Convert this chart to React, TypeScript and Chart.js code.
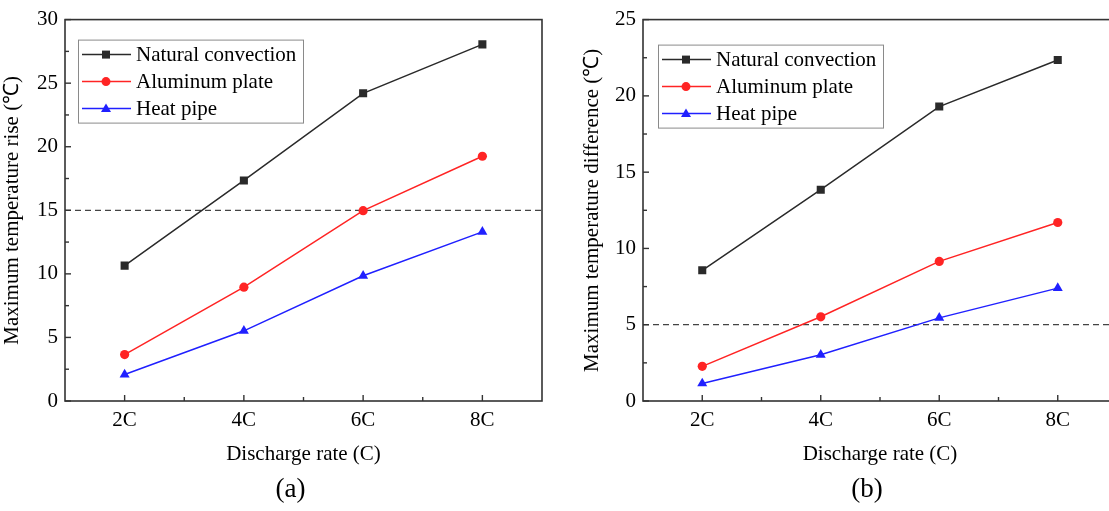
import React, { useEffect, useRef } from 'react';
import { Chart, registerables } from 'chart.js';

Chart.register(...registerables);

// ---------- data ----------
const categories = ['2C', '4C', '6C', '8C'];
const seriesNames = ['Natural convection', 'Aluminum plate', 'Heat pipe'];
const seriesColors = ['#2a2a2a', '#ff2424', '#2020ff'];
const seriesMarkers = ['rect', 'circle', 'triangle'];

const naturalA = [10.65, 17.35, 24.2, 28.05];
const aluminumA = [3.65, 8.95, 14.97, 19.25];
const heatPipeA = [2.08, 5.52, 9.85, 13.3];

const naturalB = [8.57, 13.85, 19.3, 22.35];
const aluminumB = [2.27, 5.52, 9.15, 11.7];
const heatPipeB = [1.15, 3.03, 5.45, 7.4];

const yMaxA = 30;
const yMaxB = 25;
const yStep = 5;
const thresholdA = 15;
const thresholdB = 5;

const xTitle = 'Discharge rate (C)';
const yTitleA = 'Maximum temperature rise (℃)';
const yTitleB = 'Maximum temperature difference (℃)';

const FONT = "'Liberation Serif', 'Times New Roman', Times, serif";

// ---------- decoration plugin ----------
const decorPlugin = {
  id: 'decor',
  beforeDatasetsDraw(chart: any, _args: any, opts: any) {
    const { ctx } = chart;
    const { left, top, right, bottom } = chart.chartArea;
    const ys = chart.scales.y;
    const xs = chart.scales.x;
    ctx.save();
    // dashed threshold
    const ty = ys.getPixelForValue(opts.threshold);
    ctx.strokeStyle = '#444';
    ctx.lineWidth = 1.2;
    ctx.setLineDash([6, 4]);
    ctx.beginPath();
    ctx.moveTo(left, ty);
    ctx.lineTo(right, ty);
    ctx.stroke();
    ctx.setLineDash([]);
    // frame
    ctx.strokeStyle = '#333';
    ctx.lineWidth = 1.6;
    ctx.strokeRect(left, top, right - left, bottom - top);
    // y ticks (inward)
    ctx.lineWidth = 1.4;
    const half = opts.step / 2;
    for (let v = 0; v <= opts.max + 1e-9; v += half) {
      const py = ys.getPixelForValue(v);
      const major = Math.abs(v / opts.step - Math.round(v / opts.step)) < 1e-6;
      const len = major ? 6 : 4;
      ctx.beginPath();
      ctx.moveTo(left, py);
      ctx.lineTo(left + len, py);
      ctx.stroke();
    }
    // x ticks (inward)
    const n = categories.length;
    for (let i = 0; i < n; i++) {
      const px = xs.getPixelForValue(i);
      ctx.beginPath();
      ctx.moveTo(px, bottom);
      ctx.lineTo(px, bottom - 6);
      ctx.stroke();
      if (i < n - 1) {
        const mx = (px + xs.getPixelForValue(i + 1)) / 2;
        ctx.beginPath();
        ctx.moveTo(mx, bottom);
        ctx.lineTo(mx, bottom - 4);
        ctx.stroke();
      }
    }
    ctx.restore();
  },
  afterDraw(chart: any, _args: any, opts: any) {
    const { ctx } = chart;
    const { left, top, right } = chart.chartArea;
    ctx.save();
    // legend
    const bx = left + opts.legendDx;
    const by = top + opts.legendDy;
    const bw = 225;
    const bh = 83;
    ctx.fillStyle = '#fff';
    ctx.fillRect(bx, by, bw, bh);
    ctx.strokeStyle = '#8a8a8a';
    ctx.lineWidth = 1;
    ctx.strokeRect(bx + 0.5, by + 0.5, bw, bh);
    const rows = [15, 42, 69];
    chart.data.datasets.forEach((ds: any, i: number) => {
      const ry = by + rows[i];
      ctx.strokeStyle = ds.borderColor;
      ctx.lineWidth = 1.5;
      ctx.beginPath();
      ctx.moveTo(bx + 4, ry);
      ctx.lineTo(bx + 53, ry);
      ctx.stroke();
      const mx = bx + 28;
      ctx.fillStyle = ds.borderColor;
      ctx.beginPath();
      if (ds.pointStyle === 'rect') {
        ctx.rect(mx - 4, ry - 4, 8, 8);
      } else if (ds.pointStyle === 'circle') {
        ctx.arc(mx, ry, 4.5, 0, Math.PI * 2);
      } else {
        ctx.moveTo(mx, ry - 5);
        ctx.lineTo(mx + 5, ry + 3.5);
        ctx.lineTo(mx - 5, ry + 3.5);
        ctx.closePath();
      }
      ctx.fill();
      ctx.fillStyle = '#000';
      ctx.font = `21px ${FONT}`;
      ctx.textAlign = 'left';
      ctx.textBaseline = 'middle';
      ctx.fillText(ds.label, bx + 58, ry + 1);
    });
    // panel label
    ctx.fillStyle = '#000';
    ctx.font = `27px ${FONT}`;
    ctx.textAlign = 'center';
    ctx.textBaseline = 'middle';
    ctx.fillText(opts.panel, (left + right) / 2 + opts.panelDx, opts.panelY);
    ctx.restore();
  },
};

type PanelProps = {
  left: number;
  series: number[][];
  yMax: number;
  threshold: number;
  yTitle: string;
  panel: string;
  padTop: number;
  padRight: number;
  yAxisWidth: number;
  legendDx: number;
  legendDy: number;
};

function Panel(p: PanelProps) {
  const ref = useRef<HTMLCanvasElement | null>(null);
  useEffect(() => {
    if (!ref.current) return;
    const chart = new Chart(ref.current, {
      type: 'line',
      data: {
        labels: categories,
        datasets: p.series.map((vals, i) => ({
          label: seriesNames[i],
          data: vals,
          borderColor: seriesColors[i],
          backgroundColor: seriesColors[i],
          pointBackgroundColor: seriesColors[i],
          pointBorderColor: seriesColors[i],
          pointBorderWidth: 0,
          pointStyle: seriesMarkers[i] as any,
          pointRadius: i === 0 ? 5.7 : i === 1 ? 4.6 : 5.8,
          borderWidth: 1.5,
          tension: 0,
          fill: false,
        })),
      },
      plugins: [decorPlugin as any],
      options: {
        animation: false,
        responsive: false,
        maintainAspectRatio: false,
        events: [],
        layout: {
          padding: { top: p.padTop, right: p.padRight, bottom: 40, left: 0 },
        },
        plugins: {
          legend: { display: false },
          tooltip: { enabled: false },
          decor: {
            threshold: p.threshold,
            max: p.yMax,
            step: yStep,
            legendDx: p.legendDx,
            legendDy: p.legendDy,
            panel: p.panel,
            panelDx: -13,
            panelY: 490,
          },
        } as any,
        scales: {
          x: {
            type: 'category',
            offset: true,
            grid: { display: false, drawTicks: false },
            border: { display: false },
            ticks: {
              color: '#000',
              font: { family: FONT, size: 21 },
              padding: 7,
              maxRotation: 0,
            },
            title: {
              display: true,
              text: xTitle,
              color: '#000',
              font: { family: FONT, size: 21 },
              padding: { top: 0, bottom: 4 },
            },
            afterFit: (s: any) => {
              s.height = 70;
            },
          },
          y: {
            type: 'linear',
            min: 0,
            max: p.yMax,
            grid: { display: false, drawTicks: false },
            border: { display: false },
            ticks: {
              stepSize: yStep,
              color: '#000',
              font: { family: FONT, size: 21 },
              padding: 7,
            },
            title: {
              display: true,
              text: p.yTitle,
              color: '#000',
              font: { family: FONT, size: 21 },
              padding: { top: 0, bottom: 0 },
            },
            afterFit: (s: any) => {
              s.width = p.yAxisWidth;
            },
          },
        },
      },
    });
    return () => chart.destroy();
  }, []);
  return (
    <canvas
      ref={ref}
      width={560}
      height={511}
      style={{ position: 'absolute', left: p.left, top: 0, width: 560, height: 511 }}
    />
  );
}

export default function App() {
  return (
    <div
      style={{
        position: 'fixed',
        left: 0,
        top: 0,
        width: 1109,
        height: 511,
        overflow: 'hidden',
        background: '#fff',
      }}
    >
      <Panel
        left={0}
        series={[naturalA, aluminumA, heatPipeA]}
        yMax={yMaxA}
        threshold={thresholdA}
        yTitle={yTitleA}
        panel="(a)"
        padTop={17}
        padRight={18}
        yAxisWidth={65}
        legendDx={13}
        legendDy={20}
      />
      <Panel
        left={580}
        series={[naturalB, aluminumB, heatPipeB]}
        yMax={yMaxB}
        threshold={thresholdB}
        yTitle={yTitleB}
        panel="(b)"
        padTop={18}
        padRight={23}
        yAxisWidth={63}
        legendDx={15}
        legendDy={25}
      />
    </div>
  );
}
